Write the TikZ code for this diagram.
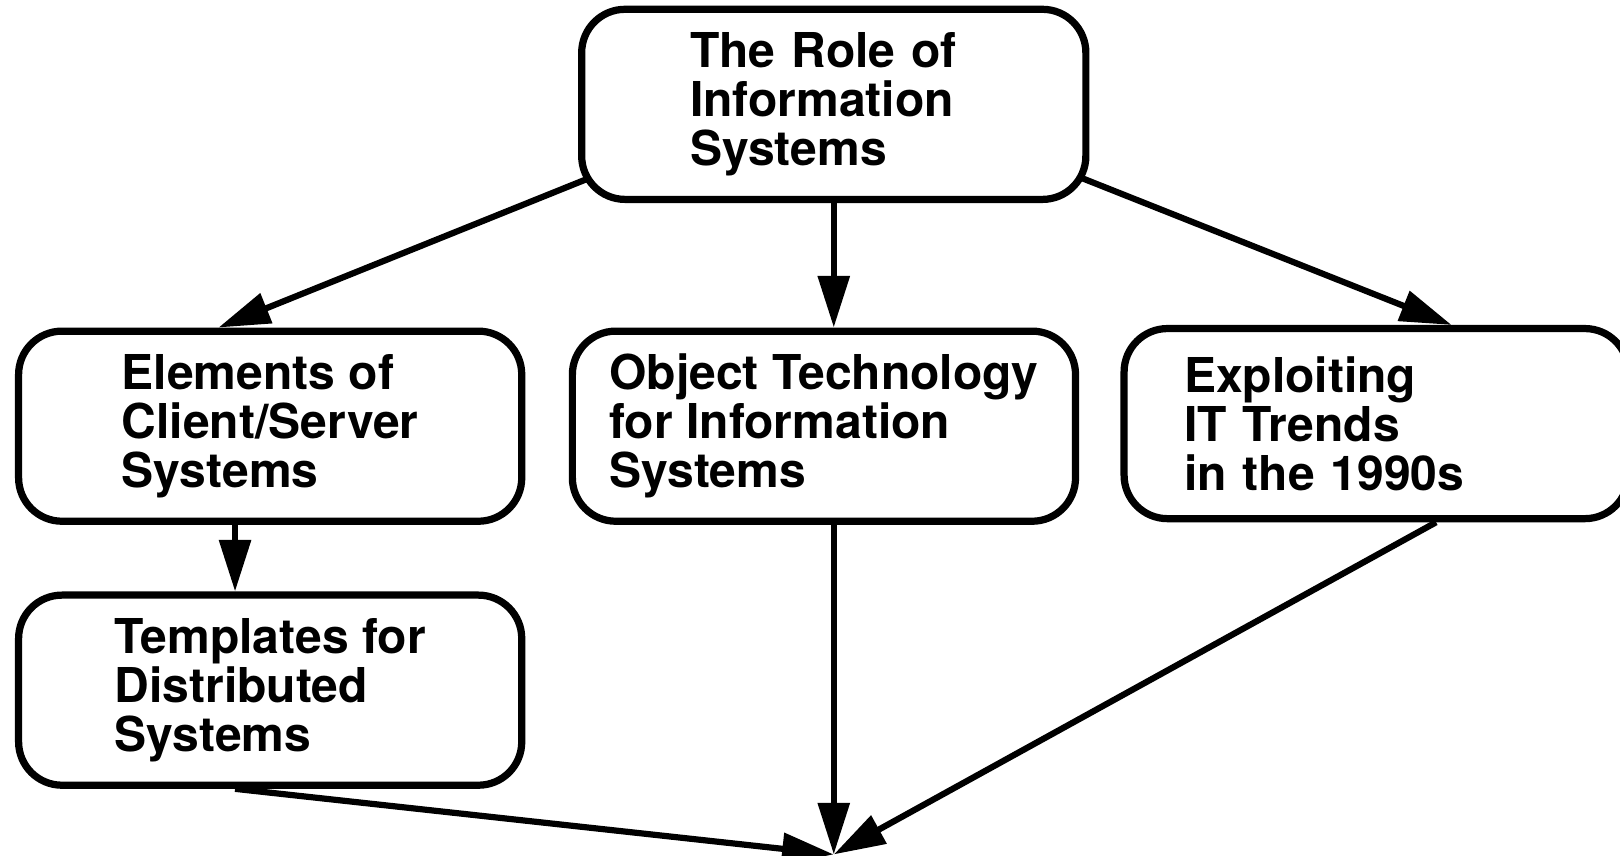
\documentclass[tikz,border=0pt]{standalone}
\usepackage{fontspec}
\usepackage{tikz}
\usetikzlibrary{arrows.meta,backgrounds}
\newfontfamily\heros{TeX Gyre Heros}

\begin{document}
\begin{tikzpicture}[x=1pt,y=-1pt,
		box/.style={draw, line width=7pt, rounded corners=42pt, fill=white, align=left, minimum width=487pt, minimum height=184pt, inner sep=0pt, font=\heros\bfseries\fontsize{46.5pt}{47.5pt}\selectfont},
		link/.style={line width=6pt, -{Triangle[length=50pt,width=30pt]}}]
		\useasboundingbox (0,0) rectangle (1568,828);
		\node [box, inner xsep=105pt, text width=278pt] (role) at (807,101) {The Role of\\Information\\Systems};
		\node [box] (elem) at (261.5,412.5) {Elements of\\Client/Server\\Systems};
		\node [box] (objt) at (797.5,412.5) {Object Technology\\for Information\\Systems};
		\node [box, inner xsep=58pt, text width=372pt] (expl) at (1332,410) {Exploiting\\IT Trends\\in the 1990s};
		\node [box] (tmpl) at (261.5,668) {Templates for\\Distributed\\Systems};
		\coordinate (sink) at (807,827);
		\begin{scope}[on background layer]
			\draw [link] ([yshift=24pt]role.center) -- ([xshift=-50pt]elem.north);
			\draw [link] (role.south) -- (role.south |- objt.north);
			\draw [link] ([yshift=24pt]role.center) -- ([xshift=73pt]expl.north);
			\draw [link] ([xshift=-34pt]elem.south) -- ([xshift=-34pt]elem.south |- tmpl.north);
			\draw [link] ([xshift=-34pt]tmpl.south) -- (sink);
			\draw [link] (sink |- objt.south) -- (sink);
			\draw [link] ([xshift=58pt]expl.south) -- (sink);
		\end{scope}
\end{tikzpicture}
\end{document}
